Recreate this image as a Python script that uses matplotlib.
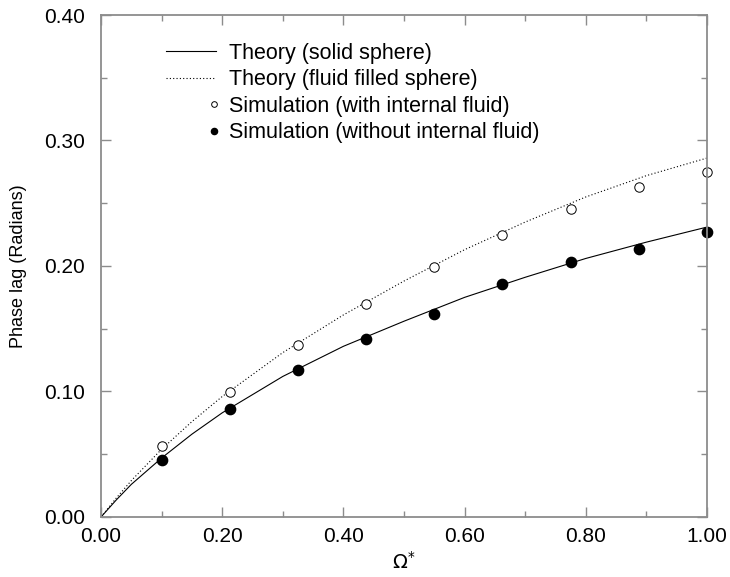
import matplotlib
matplotlib.use("Agg")
import matplotlib.pyplot as plt
from matplotlib.legend_handler import HandlerLine2DCompound
from matplotlib.ticker import MultipleLocator, FormatStrFormatter
import numpy as np

plt.rcParams['font.family'] = ['Liberation Sans', 'DejaVu Sans']

# Simulation points
omega_sim = [0.1, 0.2125, 0.325, 0.4375, 0.55, 0.6625, 0.775, 0.8875, 1.0]
lag_with_fluid = [0.0564, 0.0994, 0.1367, 0.1701, 0.1995, 0.2250, 0.2456, 0.2631, 0.2750]
lag_without_fluid = [0.0453, 0.0859, 0.1169, 0.1415, 0.1614, 0.1860, 0.2035, 0.2138, 0.2273]

# Theory curves
omega_th = [0.0, 0.025, 0.05, 0.1, 0.15, 0.2, 0.3, 0.4, 0.5, 0.6, 0.7, 0.8, 0.9, 1.0]
lag_solid = [0.0, 0.0135, 0.026, 0.047, 0.066, 0.083, 0.112, 0.136, 0.156, 0.175, 0.191, 0.206, 0.219, 0.231]
lag_fluid = [0.0, 0.0150, 0.029, 0.054, 0.076, 0.096, 0.131, 0.161, 0.188, 0.213, 0.235, 0.255, 0.272, 0.286]

fig = plt.figure(figsize=(7.30, 5.77), dpi=100)
ax = fig.add_axes([0.1384, 0.104, 0.830, 0.870])

ax.plot(omega_th, lag_solid, color='black', lw=0.8, label='Theory (solid sphere)')
ax.plot(omega_th, lag_fluid, color='black', lw=0.8, ls=(0, (1, 2)), label='Theory (fluid filled sphere)')
ax.plot(omega_sim, lag_with_fluid, ls='none', marker='o', ms=6.8, mfc='white', mec='black', mew=0.7,
        label='Simulation (with internal fluid)', clip_on=False)
ax.plot(omega_sim, lag_without_fluid, ls='none', marker='o', ms=7.4, mfc='black', mec='black',
        label='Simulation (without internal fluid)', clip_on=False)

ax.set_xlim(0, 1.0)
ax.set_ylim(0, 0.40)
ax.xaxis.set_major_locator(MultipleLocator(0.2))
ax.xaxis.set_minor_locator(MultipleLocator(0.1))
ax.yaxis.set_major_locator(MultipleLocator(0.1))
ax.yaxis.set_minor_locator(MultipleLocator(0.05))
ax.xaxis.set_major_formatter(FormatStrFormatter('%.2f'))
ax.yaxis.set_major_formatter(FormatStrFormatter('%.2f'))

spine_col = '#8c8c8c'
for s in ax.spines.values():
    s.set_color(spine_col)
    s.set_linewidth(1.3)
ax.tick_params(which='both', direction='in', top=True, right=True, color=spine_col,
               labelsize=15, width=1.0)
ax.tick_params(which='major', length=7)
ax.tick_params(which='minor', length=4)
ax.tick_params(axis='x', which='major', pad=7)
ax.tick_params(axis='y', which='major', pad=11.5)

ax.set_xlabel(r'$\Omega^{*}$', fontsize=14)
ax.xaxis.set_label_coords(0.5, -0.068)
ax.set_ylabel('Phase lag (Radians)', fontsize=13)
ax.yaxis.set_label_coords(-0.122, 0.5)


class RightMarkerHandler(HandlerLine2DCompound):
    def get_xdata(self, legend, xdescent, ydescent, width, height, fontsize):
        xdata, _ = super().get_xdata(legend, xdescent, ydescent, width, height, fontsize)
        return xdata, np.array([width - xdescent - 1.0])


handles, labels = ax.get_legend_handles_labels()
leg = ax.legend(handles, labels, loc='upper left', bbox_to_anchor=(0.082, 0.975), frameon=False,
                fontsize=15.5, handlelength=2.32, handletextpad=0.6, labelspacing=0.26,
                numpoints=1, markerscale=0.6, borderaxespad=0.3,
                handler_map={h: RightMarkerHandler() for h in handles[2:]})

fig.savefig('out.png', dpi=100)
